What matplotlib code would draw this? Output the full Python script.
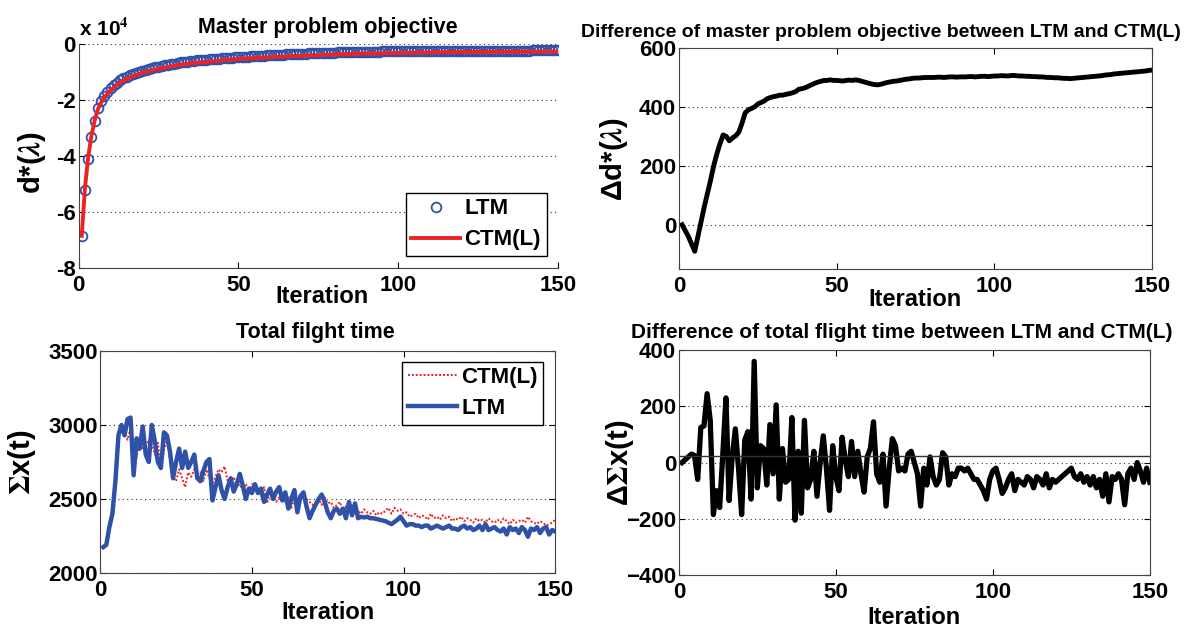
import matplotlib
matplotlib.use("Agg")
import matplotlib.pyplot as plt
import numpy as np

plt.rcParams['font.family'] = ['Liberation Sans', 'DejaVu Sans']
plt.rcParams['font.weight'] = 'bold'
plt.rcParams['mathtext.fontset'] = 'stix'

iters = np.arange(1, 151)

# master problem objective, in units of 1e4
ltm_obj = [
    -6.85, -5.20, -4.10, -3.33, -2.75, -2.30, -2.05, -1.85, -1.70, -1.58,
    -1.47, -1.38, -1.30, -1.23, -1.17, -1.12, -1.07, -1.03, -0.99, -0.95,
    -0.92, -0.89, -0.86, -0.84, -0.81, -0.79, -0.76, -0.74, -0.72, -0.70,
    -0.68, -0.66, -0.645, -0.63, -0.62, -0.605, -0.59, -0.58, -0.57, -0.56,
    -0.55, -0.54, -0.53, -0.52, -0.51, -0.50, -0.49, -0.485, -0.48, -0.47,
    -0.46, -0.455, -0.45, -0.44, -0.435, -0.43, -0.42, -0.415, -0.41, -0.40,
    -0.395, -0.39, -0.385, -0.38, -0.375, -0.37, -0.365, -0.36, -0.355, -0.35,
    -0.345, -0.34, -0.335, -0.33, -0.325, -0.32, -0.318, -0.315, -0.31, -0.305,
    -0.30, -0.30, -0.295, -0.29, -0.29, -0.285, -0.28, -0.28, -0.28, -0.275,
    -0.275, -0.27, -0.27, -0.27, -0.265, -0.265, -0.265, -0.26, -0.26, -0.26,
    -0.26, -0.255, -0.255, -0.255, -0.255, -0.25, -0.25, -0.25, -0.25, -0.25,
    -0.248, -0.248, -0.246, -0.246, -0.245, -0.245, -0.244, -0.244, -0.243, -0.243,
    -0.242, -0.242, -0.241, -0.241, -0.24, -0.24, -0.24, -0.24, -0.239, -0.239,
    -0.238, -0.238, -0.237, -0.237, -0.236, -0.236, -0.235, -0.235, -0.235, -0.234,
    -0.234, -0.233, -0.233, -0.233, -0.232, -0.232, -0.232, -0.231, -0.231, -0.23]
ctm_obj = [
    -6.85, -5.15, -4.05, -3.30, -2.75, -2.35, -2.10, -1.92, -1.78, -1.66,
    -1.55, -1.46, -1.38, -1.31, -1.25, -1.20, -1.15, -1.11, -1.07, -1.03,
    -1.00, -0.97, -0.94, -0.91, -0.89, -0.86, -0.84, -0.82, -0.80, -0.78,
    -0.76, -0.74, -0.72, -0.71, -0.69, -0.68, -0.67, -0.655, -0.645, -0.635,
    -0.625, -0.615, -0.605, -0.595, -0.585, -0.575, -0.565, -0.555, -0.545, -0.54,
    -0.53, -0.525, -0.515, -0.51, -0.50, -0.495, -0.49, -0.48, -0.475, -0.47,
    -0.465, -0.46, -0.455, -0.45, -0.445, -0.44, -0.435, -0.43, -0.425, -0.42,
    -0.415, -0.41, -0.405, -0.40, -0.395, -0.39, -0.385, -0.38, -0.378, -0.375,
    -0.372, -0.37, -0.365, -0.36, -0.358, -0.355, -0.35, -0.348, -0.345, -0.342,
    -0.34, -0.338, -0.335, -0.332, -0.33, -0.328, -0.325, -0.322, -0.32, -0.318,
    -0.316, -0.314, -0.312, -0.31, -0.308, -0.306, -0.304, -0.302, -0.30, -0.298,
    -0.296, -0.295, -0.294, -0.293, -0.292, -0.291, -0.29, -0.289, -0.288, -0.287,
    -0.286, -0.285, -0.284, -0.283, -0.282, -0.281, -0.28, -0.28, -0.279, -0.279,
    -0.278, -0.278, -0.277, -0.277, -0.276, -0.276, -0.275, -0.275, -0.274, -0.274,
    -0.273, -0.273, -0.272, -0.272, -0.271, -0.271, -0.27, -0.27, -0.27, -0.27]

# difference of objective
diff_obj = [
    0, -20, -40, -65, -90, -40, 10, 60, 105, 150,
    200, 240, 275, 305, 300, 285, 295, 302, 315, 345,
    380, 390, 395, 400, 410, 415, 420, 428, 432, 435,
    437, 440, 440, 443, 445, 448, 452, 460, 462, 465,
    470, 475, 480, 484, 487, 490, 490, 492, 490, 490,
    489, 488, 490, 491, 490, 492, 490, 487, 484, 481,
    478, 476, 475, 477, 480, 483, 485, 487, 488, 490,
    492, 494, 495, 497, 498, 498, 499, 500, 500, 500,
    500, 501, 501, 500, 501, 502, 502, 501, 502, 502,
    502, 503, 503, 502, 503, 504, 504, 503, 504, 505,
    505, 506, 506, 505, 506, 507, 506, 505, 505, 504,
    504, 503, 503, 502, 502, 501, 500, 500, 499, 499,
    498, 497, 497, 496, 497, 498, 499, 500, 501, 502,
    503, 504, 505, 506, 508, 509, 510, 512, 513, 514,
    515, 516, 517, 518, 519, 520, 521, 522, 524, 525]

# total flight time
ctm_time = [
    2170, 2180, 2300, 2420, 2650, 2900, 3000, 2950, 2900, 2980,
    2850, 2780, 2900, 2830, 2850, 2900, 2870, 2800, 2880, 2700,
    2830, 2900, 2760, 2650, 2620, 2700, 2640, 2580, 2680, 2650,
    2700, 2660, 2680, 2620, 2700, 2640, 2600, 2650, 2700, 2680,
    2720, 2620, 2600, 2650, 2580, 2600, 2560, 2600, 2550, 2600,
    2590, 2560, 2520, 2580, 2470, 2550, 2530, 2480, 2510, 2540,
    2480, 2520, 2440, 2500, 2460, 2490, 2520, 2500, 2480, 2460,
    2480, 2500, 2460, 2510, 2470, 2480, 2440, 2460, 2480, 2420,
    2450, 2420, 2460, 2440, 2420, 2400, 2430, 2410, 2400, 2420,
    2390, 2410, 2400, 2420, 2440, 2400, 2440, 2420, 2430, 2400,
    2410, 2380, 2390, 2400, 2370, 2390, 2380, 2360, 2400, 2370,
    2380, 2360, 2390, 2370, 2380, 2350, 2370, 2360, 2380, 2350,
    2370, 2360, 2340, 2370, 2350, 2360, 2340, 2370, 2350, 2340,
    2360, 2340, 2370, 2350, 2330, 2360, 2340, 2350, 2360, 2340,
    2380, 2350, 2340, 2330, 2350, 2340, 2320, 2330, 2340, 2360]
ltm_time = [
    2175, 2190, 2310, 2400, 2620, 2930, 3000, 2930, 3040, 3050,
    2660, 2910, 2840, 2990, 2800, 2750, 3000, 2890, 2750, 2710,
    2950, 2930, 2820, 2640, 2750, 2840, 2710, 2820, 2710, 2750,
    2800, 2640, 2620, 2690, 2750, 2770, 2490, 2580, 2660, 2560,
    2500, 2580, 2640, 2550, 2600, 2670, 2590, 2500, 2570, 2540,
    2600, 2540, 2570, 2480, 2530, 2570, 2500, 2550, 2580, 2490,
    2545, 2435, 2500, 2560, 2410, 2520, 2545, 2450, 2370, 2420,
    2460, 2500, 2530, 2480, 2410, 2370, 2420, 2435, 2400, 2435,
    2370, 2480, 2390, 2470, 2370, 2380, 2375, 2380, 2370, 2370,
    2365, 2360, 2355, 2350, 2340, 2330, 2345, 2360, 2380, 2350,
    2320, 2330, 2330, 2320, 2320, 2310, 2320, 2320, 2300, 2310,
    2320, 2310, 2300, 2310, 2320, 2300, 2300, 2290, 2310, 2320,
    2300, 2310, 2290, 2300, 2320, 2290, 2330, 2290, 2300, 2310,
    2290, 2280, 2300, 2260, 2310, 2290, 2300, 2270, 2310, 2290,
    2245, 2300, 2290, 2310, 2270, 2300, 2310, 2260, 2290, 2280]

# difference of flight time
diff_time = [
    0, 10, 20, 30, 25, -60, 125, 130, 245, 150,
    -185, -100, -160, 30, 230, -135, 20, 120, -20, -185,
    80, 110, -130, 360, -90, 60, 50, -80, 135, -40,
    205, -130, 50, -70, -60, 160, -205, 40, -180, 150,
    -90, -60, 40, -120, 0, 95, -20, -170, 60, -50,
    -100, 90, 10, -50, 75, -50, 40, -40, -105, 20,
    50, 145, -40, -70, 30, -155, -20, 85, 60, -30,
    -20, -30, 30, 40, 0, -40, -155, -20, -80, 20,
    -50, -80, -60, 35, 20, -80, -40, -50, -20, -20,
    -30, -20, -40, -60, -60, -80, -100, -130, -60, -30,
    -20, -60, -110, -90, -60, -40, -100, -60, -70, -80,
    -50, -60, -90, -50, -60, -80, -40, -90, -60, -70,
    -60, -50, -40, -30, -20, -50, -60, -40, -70, -50,
    -80, -50, -90, -60, -120, -40, -140, -50, -60, -40,
    -60, -150, -40, -20, -60, 0, -30, -70, -20, -70]
diff_time_ref = 25

blue = '#2f52a8'
red = '#ee2222'
tick_fs = 16
grid_kw = dict(axis='y', color='#333333', linestyle=(0, (1, 3)), linewidth=0.8)
leg_kw = dict(prop={'weight': 'bold', 'size': 16}, fancybox=False, framealpha=1,
              edgecolor='black', borderpad=0.25, borderaxespad=0, handlelength=2.2,
              handletextpad=0.2, labelspacing=0.45)


def style(ax, box=True):
    ax.set_xlim(0, 150)
    ax.set_xticks([0, 50, 100, 150])
    ax.tick_params(direction='in', labelsize=tick_fs, length=4, top=box, right=box)
    ax.tick_params(axis='x', pad=5)
    ax.tick_params(axis='y', pad=2)
    for s in ax.spines.values():
        s.set_color('#444444')
    if not box:
        ax.spines['top'].set_visible(False)
        ax.spines['right'].set_visible(False)
    ax.grid(True, **grid_kw)
    ax.set_xlabel('Iteration', fontsize=17, fontweight='bold')
    ax.xaxis.label.set_va('center')


fig = plt.figure(figsize=(11.92, 6.30), dpi=100)

# top left
ax1 = fig.add_axes([0.0659, 0.5746, 0.4023, 0.3556])
ax1.plot(iters, ltm_obj, 'o', mfc='none', mec=blue, ms=7, mew=1.3, label='LTM')
ax1.plot(iters, ctm_obj, '-', color=red, lw=2.8, label='CTM(L)')
style(ax1, box=False)
ax1.set_ylim(-8, 0)
ax1.set_yticks([-8, -6, -4, -2, 0])
ax1.set_yticklabels(['-8', '-6', '-4', '-2', '0'])
ax1.text(0.0, 1.02, 'x 10$^{\\mathbf{4}}$', transform=ax1.transAxes, fontsize=15,
         fontweight='bold', ha='left', va='bottom')
ax1.set_title('Master problem objective', fontsize=15.5, fontweight='bold', x=0.52, pad=8)
ax1.set_ylabel('d*($\\lambda$)', fontsize=21, fontweight='bold')
ax1.yaxis.set_label_coords(-0.064, 0.47)
ax1.xaxis.set_label_coords(0.508, -0.129)
leg = ax1.legend(loc='lower right', bbox_to_anchor=(0.976, 0.054), **leg_kw)
leg.get_frame().set_linewidth(1.0)

# top right
ax2 = fig.add_axes([0.5696, 0.573, 0.3968, 0.3508])
ax2.plot(iters, diff_obj, '-', color='black', lw=3.5)
style(ax2)
ax2.set_ylim(-150, 600)
ax2.set_yticks([0, 200, 400, 600])
ax2.set_title('Difference of master problem objective between LTM and CTM(L)',
              fontsize=14, fontweight='bold', x=0.428, pad=8)
ax2.set_ylabel('\u0394d*($\\lambda$)', fontsize=21, fontweight='bold')
ax2.yaxis.set_label_coords(-0.103, 0.5)
ax2.xaxis.set_label_coords(0.5, -0.14)

# bottom left
ax3 = fig.add_axes([0.0841, 0.0905, 0.3817, 0.3524])
ax3.plot(iters, ctm_time, linestyle=(0, (1, 1)), color=red, lw=1.4, label='CTM(L)')
ax3.plot(iters, ltm_time, '-', color=blue, lw=3.2, label='LTM')
style(ax3)
ax3.set_ylim(2000, 3500)
ax3.set_yticks([2000, 2500, 3000, 3500])
ax3.set_title('Total filght time', fontsize=15.5, fontweight='bold', x=0.472, pad=9)
ax3.set_ylabel('$\\Sigma$x(t)', fontsize=21, fontweight='bold')
ax3.yaxis.set_label_coords(-0.136, 0.5)
ax3.xaxis.set_label_coords(0.5, -0.18)
leg = ax3.legend(loc='upper right', bbox_to_anchor=(0.974, 0.952), **leg_kw)
leg.get_frame().set_linewidth(1.0)

# bottom right
ax4 = fig.add_axes([0.5695, 0.0873, 0.3951, 0.357])
ax4.plot(iters, diff_time, '-', color='black', lw=3.8)
ax4.axhline(diff_time_ref, color='#333333', lw=1)
style(ax4)
ax4.set_ylim(-400, 400)
ax4.set_yticks([-400, -200, 0, 200, 400])
ax4.set_title('Difference of total flight time between LTM and CTM(L)',
              fontsize=15, fontweight='bold', x=0.474, pad=9)
ax4.set_ylabel('\u0394$\\Sigma$x(t)', fontsize=21, fontweight='bold')
ax4.yaxis.set_label_coords(-0.091, 0.5)
ax4.xaxis.set_label_coords(0.5, -0.187)

fig.savefig('out.png', dpi=100)
